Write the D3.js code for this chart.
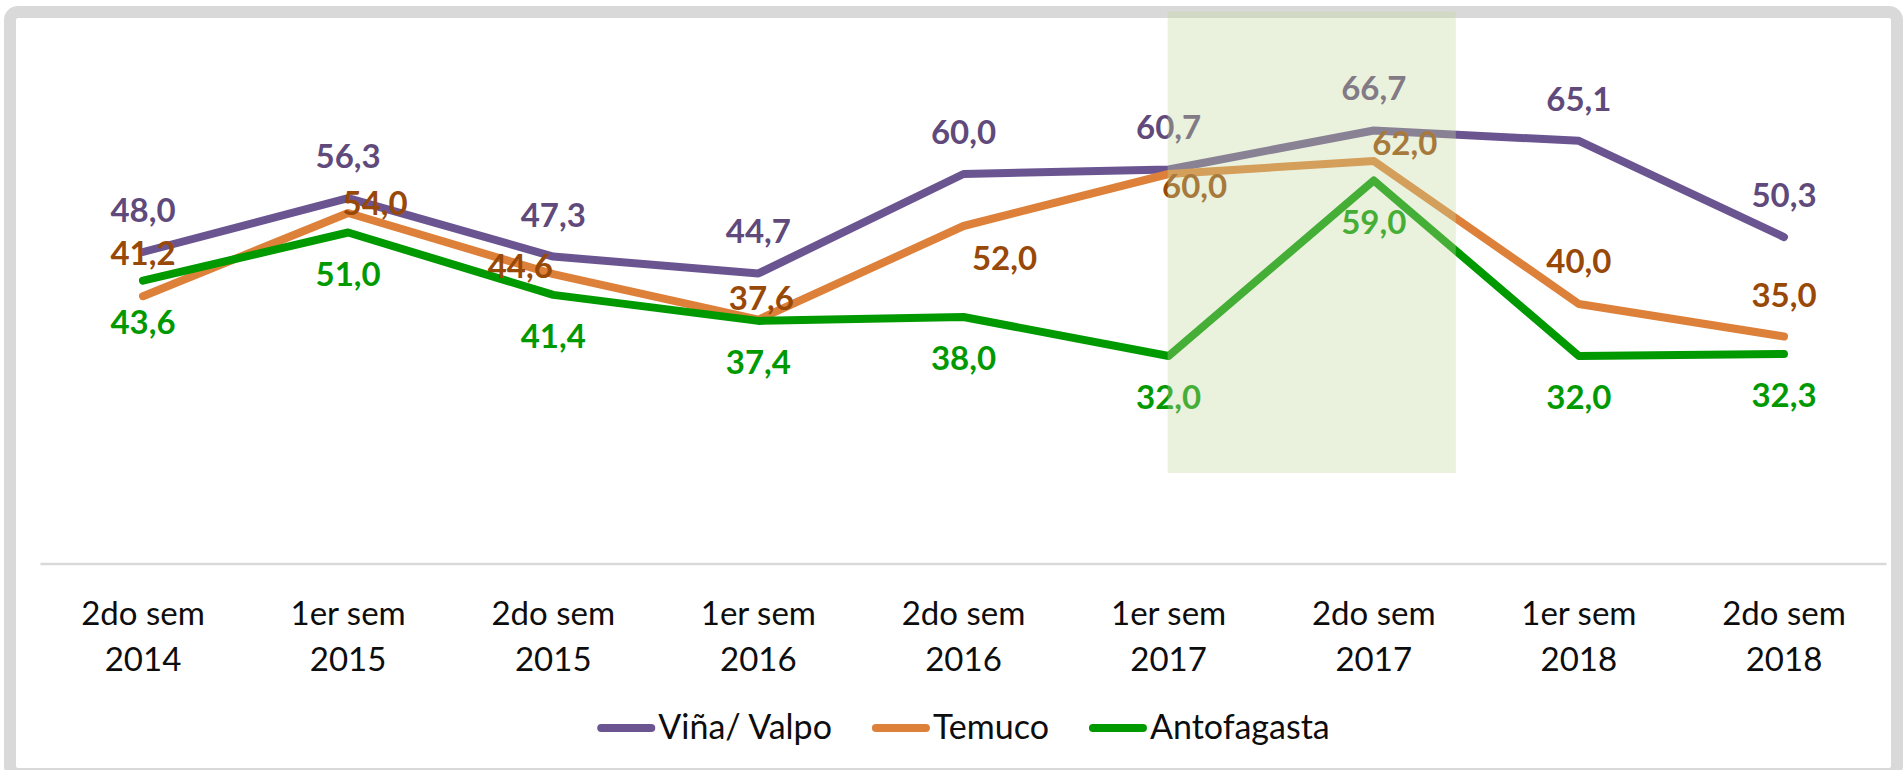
<!DOCTYPE html>
<html>
<head>
<meta charset="utf-8">
<script src="https://cdn.jsdelivr.net/npm/d3@7"></script>
<style>
  body { margin: 0; background: #fff; }
  svg { display: block; }
  text { font-family: Lato, sans-serif; }
</style>
</head>
<body>
<script>

// chart data
var periods = [
    ["2do sem", "2014"], ["1er sem", "2015"], ["2do sem", "2015"],
    ["1er sem", "2016"], ["2do sem", "2016"], ["1er sem", "2017"],
    ["2do sem", "2017"], ["1er sem", "2018"], ["2do sem", "2018"]
];
var vina = [48.0, 56.3, 47.3, 44.7, 60.0, 60.7, 66.7, 65.1, 50.3];
var temuco = [41.2, 54.0, 44.6, 37.6, 52.0, 60.0, 62.0, 40.0, 35.0];
var antofagasta = [43.6, 51.0, 41.4, 37.4, 38.0, 32.0, 59.0, 32.0, 32.3];
var seriesNames = ["Viña/ Valpo", "Temuco", "Antofagasta"];

// shaded period (from 1er sem 2017 into 2do sem 2017)
var highlight = { from: 5, to: 6.4, top: 85, bottom: 14 };

function draw_chart() {

    var width = 1903,
        height = 770;

    var line_cols = ["#6b5591", "#dd8039", "#009900"],
        label_cols = ["#604a7b", "#984807", "#009900"];

    // label offsets (dx, dy to baseline) per point, like the hand placed excel labels
    var above = [0, -30], below = [0, 53];
    var label_off = [
        periods.map(function() { return above; }),
        [[0, -31], [27, 2], [-33, 4], [3, -10], [41, 44], [26, 24], [31, -6], [0, -31], [0, -30]],
        periods.map(function() { return below; })
    ];

    var svg = d3.select("body").append("svg")
        .attr("width", width)
        .attr("height", height);

    var xScale = d3.scalePoint()
        .domain(d3.range(periods.length))
        .range([143, 1784]);

    var step = xScale.step();

    var yScale = d3.scaleLinear()
        .domain([0, 80])
        .range([564, 44]);

    // outer frame
    svg.append("rect")
        .attr("x", 10)
        .attr("y", 12)
        .attr("width", 1887)
        .attr("height", 762)
        .attr("rx", 8)
        .style("fill", "none")
        .style("stroke", "#d9d9d9")
        .style("stroke-width", 12);

    // category axis line
    svg.append("line")
        .attr("x1", xScale(0) - step / 2)
        .attr("x2", xScale(periods.length - 1) + step / 2)
        .attr("y1", yScale(0))
        .attr("y2", yScale(0))
        .style("stroke", "#d9d9d9")
        .style("stroke-width", 2.5);

    // category labels (two lines each)
    var ticks = svg.append("g").selectAll("text")
        .data(periods)
        .enter().append("text")
        .attr("x", function(d, i) { return xScale(i); })
        .attr("y", 625)
        .attr("text-anchor", "middle")
        .style("font-size", "33px")
        .style("fill", "#0d0d0d");

    ticks.append("tspan")
        .attr("x", function(d, i) { return xScale(i); })
        .text(function(d) { return d[0]; });
    ticks.append("tspan")
        .attr("x", function(d, i) { return xScale(i); })
        .attr("dy", 46)
        .text(function(d) { return d[1]; });

    var all_series = [vina, temuco, antofagasta];

    var line = d3.line()
        .x(function(d, i) { return xScale(i); })
        .y(function(d) { return yScale(d); });

    svg.append("g").selectAll("path")
        .data(all_series)
        .enter().append("path")
        .attr("d", line)
        .style("fill", "none")
        .style("stroke", function(d, i) { return line_cols[i]; })
        .style("stroke-width", 8)
        .style("stroke-linejoin", "round")
        .style("stroke-linecap", "round");

    // data labels
    all_series.forEach(function(values, s) {
        svg.append("g").selectAll("text")
            .data(values)
            .enter().append("text")
            .attr("x", function(d, i) { return xScale(i) + label_off[s][i][0]; })
            .attr("y", function(d, i) { return yScale(d) + label_off[s][i][1]; })
            .attr("text-anchor", "middle")
            .style("font-size", "33px")
            .style("font-weight", "bold")
            .style("fill", label_cols[s])
            .text(function(d) { return d.toFixed(1).replace(".", ","); });
    });

    // translucent highlight box over 2017
    svg.append("rect")
        .attr("x", xScale(highlight.from) - 1)
        .attr("y", yScale(highlight.top))
        .attr("width", xScale(6) + (highlight.to - 6) * step - xScale(highlight.from) + 1)
        .attr("height", yScale(highlight.bottom) - yScale(highlight.top))
        .style("fill", "#c3d69b")
        .style("fill-opacity", 0.35);

    // legend, centred under the plot
    var legend = svg.append("g");
    var items = legend.selectAll("g")
        .data(seriesNames)
        .enter().append("g");

    items.append("line")
        .attr("x1", 4).attr("x2", 54)
        .attr("y1", 0).attr("y2", 0)
        .style("stroke", function(d, i) { return line_cols[i]; })
        .style("stroke-width", 8)
        .style("stroke-linecap", "round");

    items.append("text")
        .attr("x", 61)
        .attr("y", 11)
        .style("font-size", "34px")
        .style("fill", "#0d0d0d")
        .text(function(d) { return d; });

    var gap = 40, pos = 0;
    items.each(function() {
        var w = 61 + d3.select(this).select("text").node().getComputedTextLength();
        d3.select(this).attr("transform", "translate(" + pos + ",0)");
        pos += w + gap;
    });
    pos -= gap;
    var mid = (xScale(0) + xScale(periods.length - 1)) / 2;
    legend.attr("transform", "translate(" + (mid - pos / 2) + ",728)");
}

draw_chart();
</script>
</body>
</html>
